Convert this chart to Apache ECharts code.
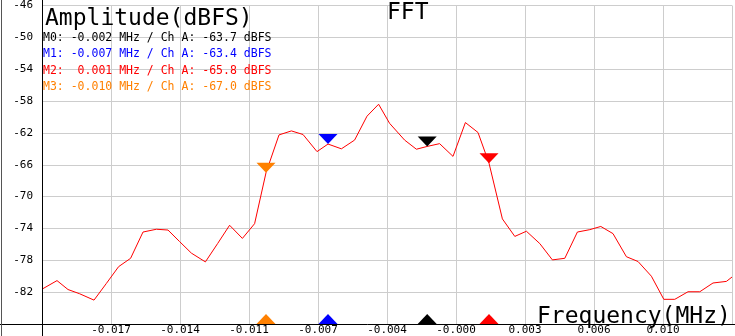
<!DOCTYPE html>
<html><head><meta charset="utf-8">
<script src="https://cdn.jsdelivr.net/npm/echarts@6/dist/echarts.min.js"></script>
<style>html,body{margin:0;padding:0;background:#fff;}#c{width:735px;height:336px;}</style>
</head><body><div id="c"></div>
<script>
// Spectrum trace (frequency in MHz, amplitude in dBFS)
const freqMHz = [-0.02128,-0.02055,-0.0200,-0.01942,-0.0187,-0.01808,-0.01747,-0.01687,-0.01625,-0.01558,
  -0.0150,-0.01442,-0.01383,-0.01313,-0.01252,-0.01192,-0.01128,-0.01067,-0.0101,-0.00945,
  -0.00883,-0.00825,-0.00755,-0.0070,-0.00633,-0.00567,-0.00505,-0.00447,-0.00392,-0.00317,
  -0.00258,-0.00204,-0.00142,-0.00075,-0.00013,0.0005,0.00105,0.00172,0.00234,0.00292,
  0.00359,0.00422,0.00484,0.00547,0.00609,0.00664,0.00725,0.00792,0.0085,0.00917,
  0.00979,0.01034,0.0110,0.01159,0.01225,0.01292,0.0132];
const ampDbfs = [-81.6,-80.55,-81.67,-82.2,-83.0,-80.9,-78.8,-77.75,-74.45,-74.1,
  -74.2,-75.65,-77.1,-78.2,-75.9,-73.6,-75.25,-73.4,-67.0,-62.25,
  -61.75,-62.2,-64.35,-63.4,-64.0,-62.9,-59.9,-58.4,-60.8,-62.9,
  -64.05,-63.7,-63.35,-64.95,-60.7,-61.95,-65.8,-72.8,-75.0,-74.35,
  -75.9,-77.95,-77.75,-74.45,-74.15,-73.75,-74.65,-77.55,-78.15,-80.0,
  -82.9,-82.9,-81.95,-81.95,-80.85,-80.65,-80.1];

// Axis tick labels (as printed by the instrument)
const xTickLabels = ['', '-0.017', '-0.014', '-0.011', '-0.007', '-0.004', '-0.000', '0.003', '0.006', '0.010', ''];
const yTickLabels = ['', '-82', '-78', '-74', '-70', '-66', '-62', '-58', '-54', '-50', '-46'];
const freqRange = [-0.0213, 0.0132];
const ampRange = [-86, -46];

// Markers
const markerNames = ['M0', 'M1', 'M2', 'M3'];
const markerFreqs = [-0.00204, -0.0070, 0.00105, -0.0101];
const markerAmps = [-63.7, -63.4, -65.8, -67.0];
const markerColors = ['#000000', '#0000ff', '#ff0000', '#ff8000'];

const MONO = "'DejaVu Sans Mono', 'Liberation Mono', monospace";
const chart = echarts.init(document.getElementById('c'), null, {renderer: 'canvas'});

const legendTexts = markerNames.map((n, i) => {
  const f = markerFreqs[i];
  const fs = (f < 0 ? '' : ' ') + f.toFixed(3);
  return {
    type: 'text', left: 43, top: 32.3 + i * 16.2, z: 100,
    style: {text: n + ': ' + fs + ' MHz / Ch A: ' + markerAmps[i].toFixed(1) + ' dBFS',
      fill: markerColors[i], font: '11.5px ' + MONO}
  };
});

chart.setOption({
  animation: false,
  backgroundColor: '#ffffff',
  grid: {left: 42, right: 2, top: 3, bottom: 11, containLabel: false},
  xAxis: [
    {type: 'value', min: 0, max: 10, interval: 1,
      axisLine: {show: false}, axisTick: {show: false},
      splitLine: {show: true, lineStyle: {color: '#cdcdcd', width: 1}},
      axisLabel: {margin: 1, color: '#000', fontFamily: MONO, fontSize: 11,
        formatter: v => xTickLabels[Math.round(v)] || ''}},
    {type: 'value', min: freqRange[0], max: freqRange[1], show: false, splitLine: {show: false}}
  ],
  yAxis: [
    {type: 'value', min: 0, max: 10, interval: 1,
      axisLine: {show: false}, axisTick: {show: false},
      splitLine: {show: true, lineStyle: {color: '#cdcdcd', width: 1}},
      axisLabel: {margin: 9, color: '#000', fontFamily: MONO, fontSize: 11,
        formatter: v => yTickLabels[Math.round(v)] || ''}},
    {type: 'value', min: ampRange[0], max: ampRange[1], show: false, splitLine: {show: false}}
  ],
  series: [
    {type: 'line', xAxisIndex: 1, yAxisIndex: 1, symbol: 'none', silent: true,
      lineStyle: {color: '#ff0000', width: 1},
      data: freqMHz.map((f, i) => [f, ampDbfs[i]]), z: 5},
    {type: 'scatter', xAxisIndex: 1, yAxisIndex: 1, symbol: 'triangle', symbolRotate: 180,
      symbolSize: [19, 10], symbolOffset: [0, -5], silent: true, z: 6,
      data: markerFreqs.map((f, i) => ({value: [f, markerAmps[i]], itemStyle: {color: markerColors[i], opacity: 1}}))},
    {type: 'scatter', xAxisIndex: 1, yAxisIndex: 1, symbol: 'triangle',
      symbolSize: [19, 10], symbolOffset: [0, -5], silent: true, z: 6,
      data: markerFreqs.map((f, i) => ({value: [f, ampRange[0]], itemStyle: {color: markerColors[i], opacity: 1}}))}
  ],
  graphic: [
    {type: 'line', z: 50, shape: {x1: 42.5, y1: 0, x2: 42.5, y2: 336}, style: {stroke: '#000', lineWidth: 1}},
    {type: 'line', z: 50, shape: {x1: 0, y1: 324.5, x2: 735, y2: 324.5}, style: {stroke: '#000', lineWidth: 1}},
    {type: 'line', z: 50, shape: {x1: 1.5, y1: 0, x2: 1.5, y2: 336}, style: {stroke: '#555', lineWidth: 1}},
    {type: 'text', left: 45, top: 7.5, z: 100, style: {text: 'Amplitude(dBFS)', fill: '#000', font: '23px ' + MONO}},
    {type: 'text', left: 387, top: 2, z: 100, style: {text: 'FFT', fill: '#000', font: '23px ' + MONO}},
    {type: 'text', left: 537, top: 306, z: 100, style: {text: 'Frequency(MHz)', fill: '#000', font: '23px ' + MONO}}
  ].concat(legendTexts)
});
</script></body></html>
